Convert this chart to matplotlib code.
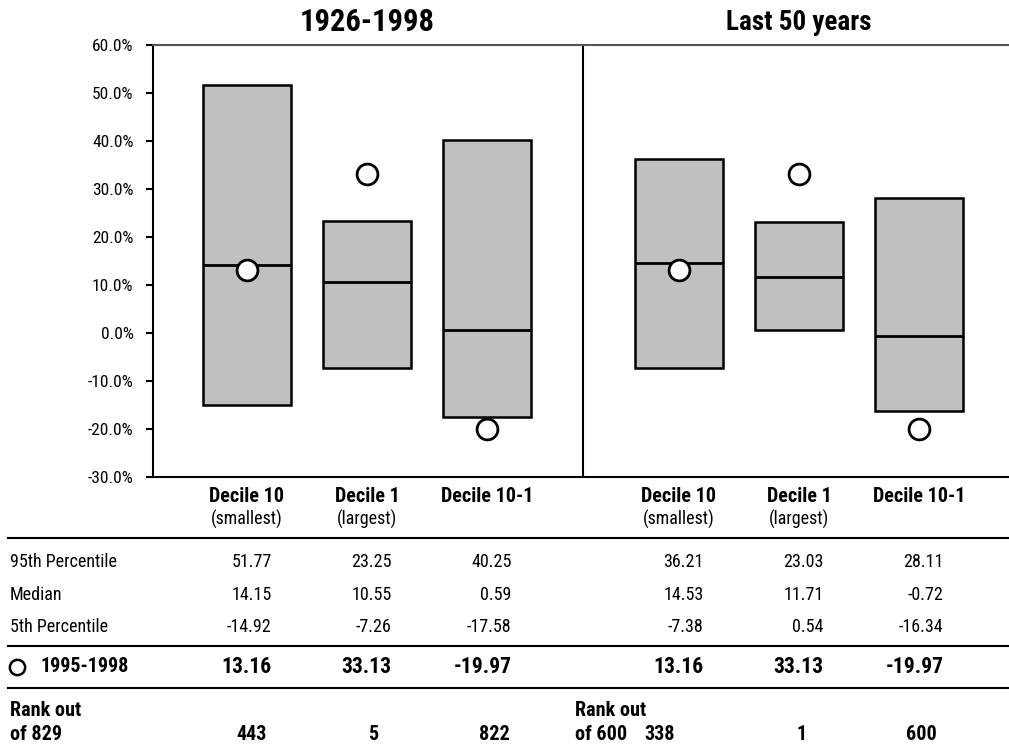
import matplotlib
matplotlib.use("Agg")
import matplotlib.pyplot as plt
from matplotlib.lines import Line2D
import matplotlib.transforms as mtransforms

plt.rcParams['font.family'] = ['Roboto Condensed', 'Liberation Sans Narrow', 'Roboto', 'DejaVu Sans']

# ---- data ----
periods = ["1926-1998", "Last 50 years"]
categories = ["Decile 10", "Decile 1", "Decile 10-1"]
subtitles = ["(smallest)", "(largest)", ""]
p95 = [[51.77, 23.25, 40.25], [36.21, 23.03, 28.11]]
median = [[14.15, 10.55, 0.59], [14.53, 11.71, -0.72]]
p5 = [[-14.92, -7.26, -17.58], [-7.38, 0.54, -16.34]]
recent = [[13.16, 33.13, -19.97], [13.16, 33.13, -19.97]]
rank_totals = [829, 600]
ranks = [[443, 5, 822], [338, 1, 600]]
yticks = [-30, -20, -10, 0, 10, 20, 30, 40, 50, 60]
row_labels = ["95th Percentile", "Median", "5th Percentile"]
recent_label = "1995-1998"

W, H = 1009, 747
fig = plt.figure(figsize=(W / 100, H / 100), dpi=100)

def fy(py):
    return 1 - py / H

ax = fig.add_axes([153 / W, fy(477), (W - 153) / W, (477 - 45) / H])
group_offsets = [0.0, 3.6]
bw = 0.733
ax.set_xlim(-0.783, 6.35)
ax.set_ylim(-30, 60)

for g in range(2):
    xs = [group_offsets[g] + i for i in range(3)]
    heights = [p95[g][i] - p5[g][i] for i in range(3)]
    ax.bar(xs, heights, bottom=p5[g], width=bw, color="#c0c0c0",
           edgecolor="black", linewidth=1.8, zorder=2)
    ax.hlines(median[g], [x - bw / 2 for x in xs], [x + bw / 2 for x in xs],
              colors="black", linewidth=2.0, zorder=3)
    ax.plot(xs, recent[g], linestyle="none", marker="o", markersize=15,
            markerfacecolor="white", markeredgecolor="black",
            markeredgewidth=2.0, zorder=4, clip_on=False)

# divider between the two periods
ax.axvline(2.8, color="black", linewidth=1.5, zorder=1)

ax.set_yticks(yticks)
ax.set_yticklabels([f"{v:.1f}%" for v in yticks], fontsize=12.5)
ax.tick_params(axis="y", direction="out", length=5, width=1.5, pad=9)
ax.set_xticks([])
ax.spines["right"].set_visible(False)
ax.spines["top"].set_color("#555555")
ax.spines["top"].set_linewidth(1.5)
ax.spines["left"].set_linewidth(1.5)
ax.spines["bottom"].set_linewidth(1.5)

blend = mtransforms.blended_transform_factory(ax.transData, fig.transFigure)

# titles
title_sizes = [22, 19.5]
for g in range(2):
    fig.text(group_offsets[g] + 1, fy(22), periods[g], transform=blend,
             ha="center", va="center", fontsize=title_sizes[g], fontweight="bold")

# headers
for g in range(2):
    for i in range(3):
        x = group_offsets[g] + i
        fig.text(x, fy(497), categories[i], transform=blend, ha="center",
                 va="center", fontsize=14.5, fontweight="bold")
        if subtitles[i]:
            fig.text(x, fy(519), subtitles[i], transform=blend, ha="center",
                     va="center", fontsize=13)

# table lines
for py in [538, 646, 688]:
    fig.add_artist(Line2D([8 / W, 1], [fy(py), fy(py)], color="black",
                          linewidth=1.5, transform=fig.transFigure))

# table rows
row_y = [562, 595, 627]
rows = [p95, median, p5]
for r in range(3):
    fig.text(10 / W, fy(row_y[r]), row_labels[r], ha="left", va="center",
             fontsize=13)
    for g in range(2):
        for i in range(3):
            x = group_offsets[g] + i + 0.205
            fig.text(x, fy(row_y[r]), f"{rows[r][g][i]:.2f}", transform=blend,
                     ha="right", va="center", fontsize=13)

# recent row
fig.add_artist(Line2D([17 / W], [fy(667)], marker="o", markersize=11,
                      markerfacecolor="white", markeredgecolor="black",
                      markeredgewidth=1.8, linestyle="none",
                      transform=fig.transFigure))
fig.text(41 / W, fy(667), recent_label, ha="left", va="center",
         fontsize=14.5, fontweight="bold")
for g in range(2):
    for i in range(3):
        x = group_offsets[g] + i + 0.205
        fig.text(x, fy(667), f"{recent[g][i]:.2f}", transform=blend,
                 ha="right", va="center", fontsize=15.5, fontweight="bold")

# rank rows
rank_label_x = [10, 575]
rank_x = [[252, 373, 494], [660, 802, 921]]
for g in range(2):
    fig.text(rank_label_x[g] / W, fy(711), "Rank out", ha="left", va="center",
             fontsize=14.5, fontweight="bold")
    fig.text(rank_label_x[g] / W, fy(735), f"of {rank_totals[g]}", ha="left",
             va="center", fontsize=14.5, fontweight="bold")
    for i in range(3):
        fig.text(rank_x[g][i] / W, fy(735), str(ranks[g][i]), ha="center",
                 va="center", fontsize=14.5, fontweight="bold")

fig.savefig("out.png", dpi=100)
